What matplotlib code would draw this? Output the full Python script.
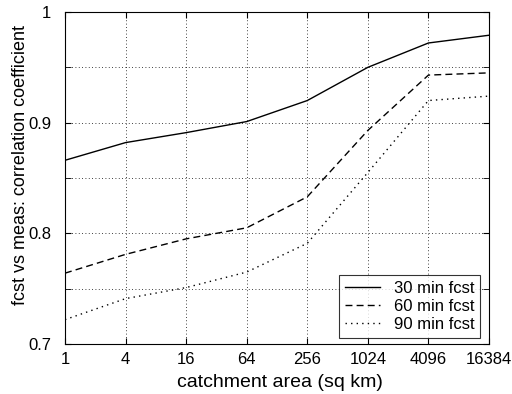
import numpy as np
import matplotlib
matplotlib.use("Agg")
import matplotlib.pyplot as plt
from matplotlib.ticker import FixedLocator, NullFormatter

###########################################################
### ---------------------- DATA ---------------------------
###########################################################

areas = [1, 4, 16, 64, 256, 1024, 4096, 16384]
x_labels = ['1', '4', '16', '64', '256', '1024', '4096', '16384']

corr_30 = [0.866, 0.882, 0.891, 0.901, 0.920, 0.950, 0.972, 0.979]
corr_60 = [0.764, 0.781, 0.795, 0.805, 0.833, 0.893, 0.943, 0.945]
corr_90 = [0.722, 0.741, 0.751, 0.765, 0.791, 0.855, 0.920, 0.924]

y_major = [0.7, 0.8, 0.9, 1.0]
y_labels = ['0.7', '0.8', '0.9', '1']
y_minor = [0.75, 0.85, 0.95]

###########################################################
### ---------------------- PLOT ---------------------------
###########################################################

plt.rcParams['font.family'] = ['Liberation Sans', 'DejaVu Sans']

fig = plt.figure(figsize=(5.12, 3.94), dpi=100)
ax = fig.add_axes([65/512, 50/394, 424/512, 332/394])

ax.plot(areas, corr_30, color='black', linestyle='-', linewidth=1.0, label='30 min fcst')
ax.plot(areas, corr_60, color='black', linestyle=(0, (5, 3)), linewidth=1.0, label='60 min fcst')
ax.plot(areas, corr_90, color='black', linestyle=(0, (1, 3)), linewidth=1.0, label='90 min fcst')

ax.set_xscale('log', base=2)
ax.set_xlim(1, 16384)
ax.set_ylim(0.7, 1.0)
ax.xaxis.set_major_locator(FixedLocator(areas))
ax.set_xticklabels(x_labels)
ax.xaxis.set_minor_locator(FixedLocator([]))
ax.yaxis.set_major_locator(FixedLocator(y_major))
ax.set_yticklabels(y_labels)
ax.yaxis.set_minor_locator(FixedLocator(y_minor))
ax.yaxis.set_minor_formatter(NullFormatter())

ax.grid(True, which='both', color='black', linestyle=(0, (1, 3)), linewidth=0.6)
ax.tick_params(which='both', direction='in', top=True, right=True, length=4,
               labelsize=12)
ax.tick_params(axis='x', pad=6)
ax.tick_params(axis='y', pad=10)

for s in ax.spines.values():
    s.set_linewidth(0.8)

ax.set_xlabel('catchment area (sq km)', fontsize=14)
ax.xaxis.label.set_va('center')
ax.xaxis.set_label_coords(0.506, -0.1145)
ax.set_ylabel('fcst vs meas: correlation coefficient', fontsize=13)
ax.yaxis.label.set_va('center')
ax.yaxis.set_label_coords(-0.106, 0.54)

leg = ax.legend(loc='lower right', fontsize=12, frameon=True, fancybox=False,
                edgecolor='black', handlelength=2.1, handletextpad=0.8,
                borderpad=0.35, labelspacing=0.2, borderaxespad=0,
                bbox_to_anchor=(0.979, 0.018))
leg.get_frame().set_linewidth(0.8)

plt.savefig('out.png', dpi=100)
